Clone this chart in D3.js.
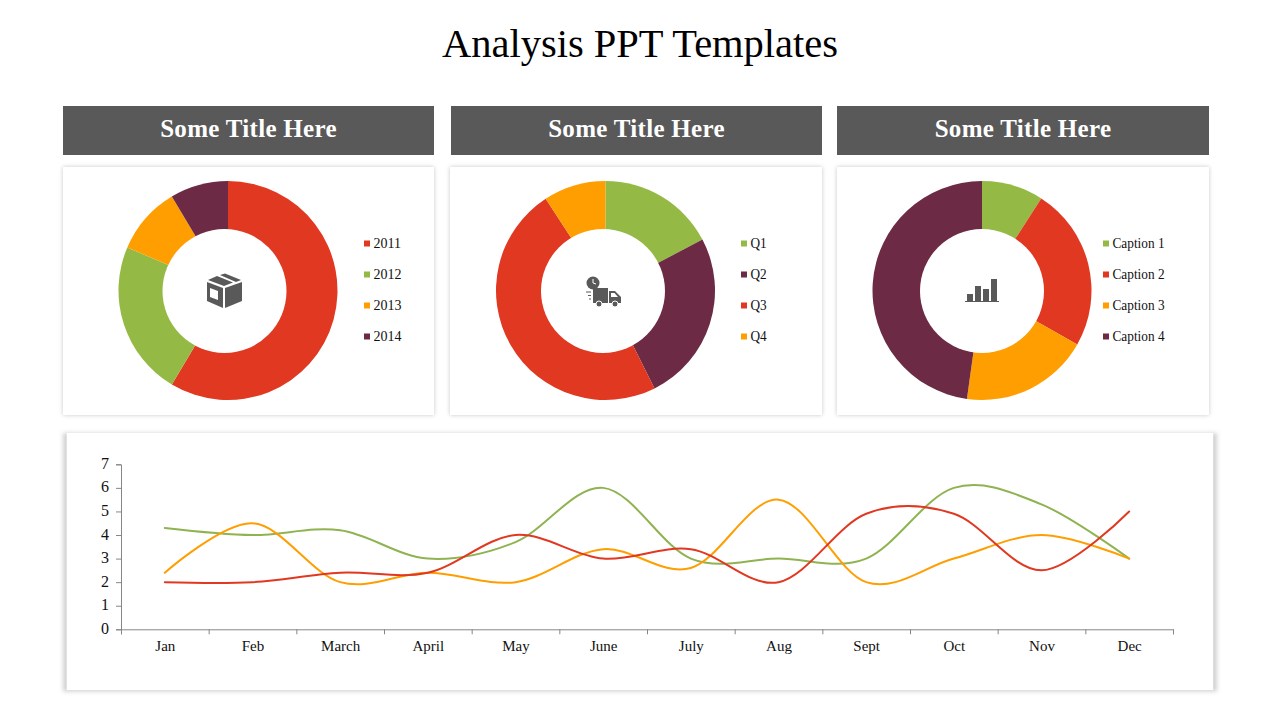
<!DOCTYPE html>
<html>
<head>
<meta charset="utf-8">
<script src="https://cdn.jsdelivr.net/npm/d3@7/dist/d3.min.js"></script>
<style>
	html, body { margin: 0; padding: 0; background: #fff; }
	svg { display: block; font-family: "Liberation Serif", serif; }
</style>
</head>
<body>
<svg id="main-svg" width="1280" height="720"></svg>
<script>
const headerTitles = ['Some Title Here', 'Some Title Here', 'Some Title Here'];

const donut1Labels = ['2011', '2012', '2013', '2014'];
const donut1Values = [8.2, 3.2, 1.4, 1.2];
const donut1Colors = ['#e03821', '#94ba45', '#ff9e00', '#6c2a45'];

const donut2Labels = ['Q1', 'Q2', 'Q3', 'Q4'];
const donut2Values = [17.3, 25.3, 48.2, 9.2];
const donut2Colors = ['#94ba45', '#6c2a45', '#e03821', '#ff9e00'];

const donut3Labels = ['Caption 1', 'Caption 2', 'Caption 3', 'Caption 4'];
const donut3Values = [9.1, 24.1, 19, 47.8];
const donut3Colors = ['#94ba45', '#e03821', '#ff9e00', '#6c2a45'];

const months = ['Jan', 'Feb', 'March', 'April', 'May', 'June', 'July', 'Aug', 'Sept', 'Oct', 'Nov', 'Dec'];
const greenSeries = [4.3, 4, 4.2, 3, 3.7, 6, 3, 3, 3, 6, 5.3, 3];
const orangeSeries = [2.4, 4.5, 2, 2.4, 2, 3.4, 2.6, 5.5, 2, 3, 4, 3];
const redSeries = [2, 2, 2.4, 2.4, 4, 3, 3.4, 2, 4.9, 4.9, 2.5, 5];

const svg = d3.select('#main-svg');

const defs = svg.append('defs');
const softShadow = defs.append('filter').attr('id', 'soft')
	.attr('x', '-5%').attr('y', '-5%').attr('width', '110%').attr('height', '110%');
softShadow.append('feDropShadow').attr('dx', 0).attr('dy', 0).attr('stdDeviation', 2)
	.attr('flood-color', '#000').attr('flood-opacity', 0.22);
defs.append('filter').attr('id', 'blur')
	.attr('x', '-5%').attr('y', '-10%').attr('width', '110%').attr('height', '120%')
	.append('feGaussianBlur').attr('stdDeviation', 2);

svg.append('text')
	.attr('x', 640).attr('y', 57)
	.attr('text-anchor', 'middle')
	.attr('font-size', 40.5)
	.attr('fill', '#000')
	.text('Analysis PPT Templates');

const headers = [[63, 371], [451, 371], [837, 372]];
headers.forEach(function(h, i) {
	svg.append('rect')
		.attr('x', h[0]).attr('y', 106).attr('width', h[1]).attr('height', 49)
		.attr('fill', '#595959');
	svg.append('text')
		.attr('x', h[0] + h[1] / 2).attr('y', 137)
		.attr('text-anchor', 'middle')
		.attr('font-size', 25)
		.attr('font-weight', 'bold')
		.attr('letter-spacing', 0.3)
		.attr('fill', '#fff')
		.text(headerTitles[i]);
});

function drawDonut(opts) {
	svg.append('rect')
		.attr('x', opts.panelX).attr('y', 167).attr('width', opts.panelW).attr('height', 248)
		.attr('fill', '#fff')
		.attr('filter', 'url(#soft)');

	const pie = d3.pie().sort(null);
	const arc = d3.arc().innerRadius(0).outerRadius(109.5);
	const g = svg.append('g').attr('transform', `translate(${opts.cx},290.5)`);
	g.selectAll('path')
		.data(pie(opts.values))
		.enter().append('path')
		.attr('d', arc)
		.attr('fill', (d, i) => opts.colors[i]);
	// the hole sits a little off centre on the first two
	svg.append('circle')
		.attr('cx', opts.holeX).attr('cy', 291).attr('r', 62)
		.attr('fill', '#fff');

	const legendY = d3.scalePoint().domain(opts.labels).range([243.5, 336.5]);
	const legend = svg.append('g')
		.selectAll('g')
		.data(opts.labels)
		.enter().append('g')
		.attr('transform', d => `translate(${opts.legendX},${legendY(d)})`);
	legend.append('rect')
		.attr('x', 0).attr('y', -3).attr('width', 6).attr('height', 6)
		.attr('fill', (d, i) => opts.colors[i]);
	legend.append('text')
		.attr('transform', `translate(9.5,4.5) scale(${opts.legendScale},1)`)
		.attr('font-size', 14)
		.attr('fill', '#111')
		.text(d => d);
}

drawDonut({ panelX: 63, panelW: 371, cx: 228, holeX: 224.5, legendX: 364, legendScale: 1, labels: donut1Labels, values: donut1Values, colors: donut1Colors });
drawDonut({ panelX: 450, panelW: 372, cx: 605.5, holeX: 603, legendX: 741, legendScale: 0.95, labels: donut2Labels, values: donut2Values, colors: donut2Colors });
drawDonut({ panelX: 837, panelW: 372, cx: 982, holeX: 982, legendX: 1103, legendScale: 0.95, labels: donut3Labels, values: donut3Values, colors: donut3Colors });

// centre icons
const iconColor = '#595959';

const box = svg.append('g').attr('transform', 'translate(224,291)').attr('fill', iconColor);
box.append('path').attr('d', 'M-17,-9 L-1,-3 L-1,17 L-17,10 Z M-6,-0 L-14,-3 L-14,6 L-6,9 Z').attr('fill-rule', 'evenodd');
box.append('path').attr('d', 'M1,-3 L18,-9 L18,10 L1,17 Z');
box.append('path').attr('d', 'M-16,-11 L-7,-15 L9,-8.5 L0,-5 Z M-4,-16 L1,-17.5 L17,-11 L12,-9 Z');

const truck = svg.append('g').attr('transform', 'translate(604,291)').attr('fill', iconColor);
truck.append('circle').attr('cx', -11).attr('cy', -8).attr('r', 6.5);
truck.append('path').attr('d', 'M-11,-12 L-11,-8 L-8,-7').attr('fill', 'none').attr('stroke', '#fff').attr('stroke-width', 1);
truck.append('rect').attr('x', -11).attr('y', -3).attr('width', 15).attr('height', 15);
truck.append('path').attr('d', 'M5,0 L11,0 L17,6 L17,12 L5,12 Z M7,2 L7,6 L14,6 L10.5,2 Z').attr('fill-rule', 'evenodd');
truck.append('path').attr('d', 'M-18,1 L-13,1 M-16,4.5 L-13,4.5 M-15,8 L-13,8').attr('stroke', iconColor).attr('stroke-width', 1);
truck.selectAll('.wheel').data([-5, 11]).enter().append('circle')
	.attr('class', 'wheel').attr('cx', d => d).attr('cy', 13).attr('r', 3)
	.attr('stroke', '#fff').attr('stroke-width', 1);

const bars = svg.append('g').attr('transform', 'translate(982,291)').attr('fill', iconColor);
const barHeights = [7, 15, 12, 22];
const barX = d3.scaleLinear().domain([0, 3]).range([-15, 9]);
bars.selectAll('rect').data(barHeights).enter().append('rect')
	.attr('x', (d, i) => barX(i)).attr('y', d => 10 - d)
	.attr('width', 6).attr('height', d => d);
bars.append('rect').attr('x', -17).attr('y', 10).attr('width', 34).attr('height', 1);

// line chart
svg.append('rect')
	.attr('x', 63).attr('y', 433).attr('width', 1154).attr('height', 258.5)
	.attr('fill', '#d2d2d2')
	.attr('filter', 'url(#blur)');
svg.append('rect')
	.attr('x', 66.7).attr('y', 433).attr('width', 1146.5).attr('height', 257)
	.attr('fill', '#fff');

const x = d3.scaleBand().domain(months).range([121, 1173]);
const xEdges = d3.scaleLinear().domain([0, months.length]).range([121, 1173]);
const y = d3.scaleLinear().domain([0, 7]).range([629.3, 464.3]);

const axisColor = '#868686';

const yAxis = svg.append('g')
	.attr('transform', 'translate(121,0)')
	.call(d3.axisLeft(y).ticks(7).tickSize(5).tickPadding(7).tickFormat(d3.format('d')));
yAxis.selectAll('text').attr('font-family', 'Liberation Serif').attr('font-size', 16).attr('fill', '#111').attr('y', -1);
yAxis.selectAll('line, path').attr('stroke', axisColor);

const xTicks = svg.append('g')
	.attr('transform', 'translate(0,629.3)')
	.call(d3.axisBottom(xEdges).ticks(months.length).tickSize(5).tickFormat(''));
xTicks.selectAll('line, path').attr('stroke', axisColor);

const xLabels = svg.append('g')
	.attr('transform', 'translate(0.5,629.3)')
	.call(d3.axisBottom(x).tickSize(0).tickPadding(11));
xLabels.select('.domain').remove();
xLabels.selectAll('text').attr('font-family', 'Liberation Serif').attr('font-size', 15).attr('fill', '#111');

const line = d3.line()
	.x((d, i) => x(months[i]) + x.bandwidth() / 2)
	.y(d => y(d))
	.curve(d3.curveCardinal.tension(0));

[[greenSeries, '#8fb351'], [orangeSeries, '#ff9e00'], [redSeries, '#e03821']].forEach(function(s) {
	svg.append('path')
		.datum(s[0])
		.attr('d', line)
		.attr('fill', 'none')
		.attr('stroke', s[1])
		.attr('stroke-width', 2)
		.attr('stroke-linecap', 'round');
});
</script>
</body>
</html>
